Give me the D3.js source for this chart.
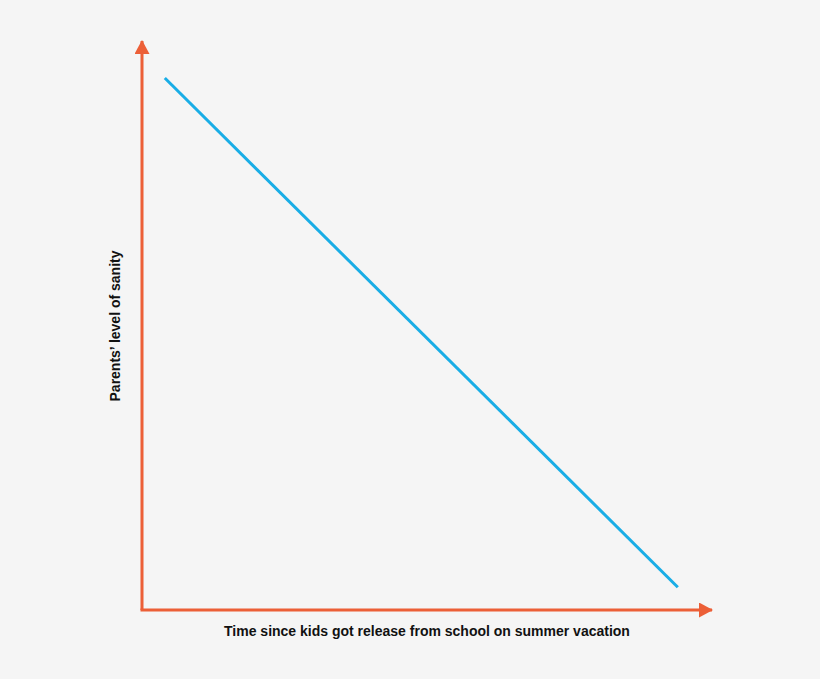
<!DOCTYPE html>
<html>
<head>
<meta charset="utf-8">
<script src="https://cdn.jsdelivr.net/npm/d3@7"></script>
<style>
  html, body { margin: 0; padding: 0; background: #f5f5f5; }
  svg { display: block; }
</style>
</head>
<body>
<div id="chart"></div>
<script>
// Data (arbitrary 0-100 units on both axes)
const timeValues = [4, 94];
const sanityValues = [93.5, 4];
const xLabel = 'Time since kids got release from school on summer vacation';
const yLabel = 'Parents\u2019 level of sanity';

const width = 820, height = 679;
const margin = { top: 41, right: 108, bottom: 69, left: 142 };
const axisColor = '#ec5f37';
const lineColor = '#19ade6';

const svg = d3.select('#chart').append('svg')
    .attr('width', width)
    .attr('height', height);

svg.append('rect').attr('width', width).attr('height', height).attr('fill', '#f5f5f5');

// Scales
const xScale = d3.scaleLinear().domain([0, 100]).range([margin.left, width - margin.right]);
const yScale = d3.scaleLinear().domain([0, 100]).range([height - margin.bottom, margin.top]);

// Arrow heads
const defs = svg.append('defs');
defs.append('marker')
    .attr('id', 'arrow')
    .attr('viewBox', '0 0 14 15')
    .attr('refX', 13)
    .attr('refY', 7.5)
    .attr('markerUnits', 'userSpaceOnUse')
    .attr('markerWidth', 14)
    .attr('markerHeight', 15)
    .attr('orient', 'auto')
  .append('path')
    .attr('d', 'M0,0 L14,7.5 L0,15 Z')
    .attr('fill', axisColor);

// Axes (plain lines with arrows, no ticks)
const axes = svg.append('g');
axes.append('line')
    .attr('x1', xScale(0)).attr('y1', yScale(0))
    .attr('x2', xScale(0)).attr('y2', yScale(100))
    .attr('stroke', axisColor).attr('stroke-width', 3)
    .attr('marker-end', 'url(#arrow)');
axes.append('line')
    .attr('x1', xScale(0) - 1.5).attr('y1', yScale(0))
    .attr('x2', xScale(100)).attr('y2', yScale(0))
    .attr('stroke', axisColor).attr('stroke-width', 3)
    .attr('marker-end', 'url(#arrow)');

// Line
const lineData = d3.zip(timeValues, sanityValues);
svg.append('path')
    .datum(lineData)
    .attr('fill', 'none')
    .attr('stroke', lineColor)
    .attr('stroke-width', 3)
    .attr('d', d3.line().x(d => xScale(d[0])).y(d => yScale(d[1])));

// Labels
svg.append('text')
    .attr('x', 427)
    .attr('y', 636)
    .attr('text-anchor', 'middle')
    .attr('font-family', 'Liberation Sans, Arial, sans-serif')
    .attr('font-weight', 'bold')
    .attr('font-size', 14)
    .attr('fill', '#111')
    .text(xLabel);

svg.append('text')
    .attr('transform', 'translate(120, 326) rotate(-90)')
    .attr('text-anchor', 'middle')
    .attr('font-family', 'Liberation Sans, Arial, sans-serif')
    .attr('font-weight', 'bold')
    .attr('font-size', 14)
    .attr('fill', '#111')
    .text(yLabel);
</script>
</body>
</html>
